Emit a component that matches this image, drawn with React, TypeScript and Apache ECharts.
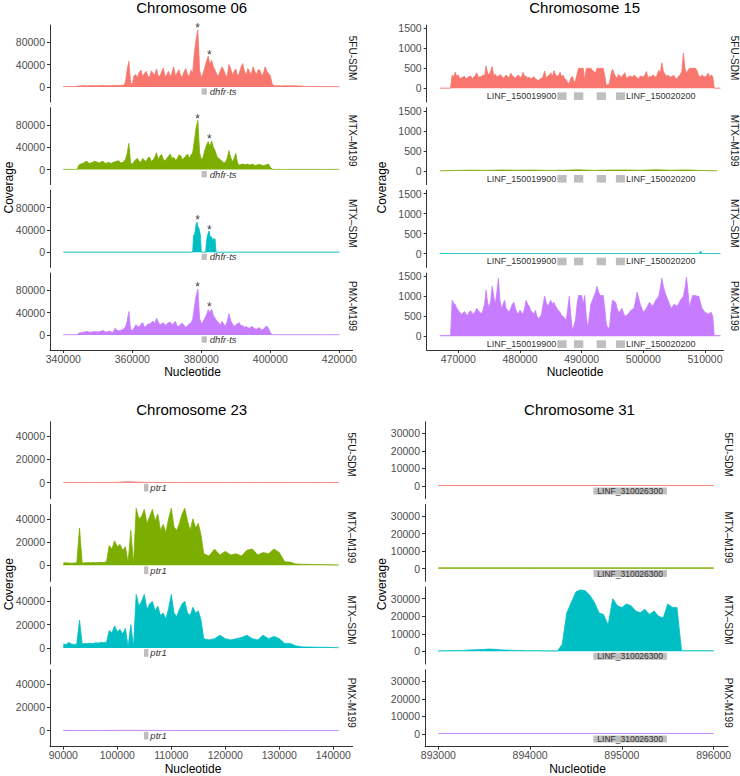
import React, { useEffect, useRef } from 'react';
import * as echarts from 'echarts';

const FONT = '"Liberation Sans", Arial, Helvetica, sans-serif';

const sampleNames = ['5FU-SDM', 'MTX–M199', 'MTX–SDM', 'PMX-M199'];
const sampleColors = ['#F8766D', '#7CAE00', '#00BFC4', '#C77CFF'];

// ---------- Chromosome 06 (coverage in thousands; 340000..420000 every 1000 nt, plus half-step readings)
const c06Start = 340000;
const c06Step = 1000;
const c06Fu = [
  0.6, 0.6, 0.7, 0.6, 1.2, 2, 2.2, 1.8, 2.4, 2, 2.2, 2.6, 2.2, 2, 2.4, 2.8, 2.4, 3, 8, 46,
  4, 22, 26, 18, 28, 17, 24, 32, 19, 34, 22, 18, 36, 25, 20, 27, 22, 30, 62, 102,
  16, 34, 55, 48, 30, 20, 36, 22, 40, 21, 32, 24, 42, 21, 27, 36, 22, 30, 24, 28,
  20, 2, 2.2, 1.8, 2, 2.2, 1.8, 2, 1.6, 1.8, 0.8, 0.7, 0.8, 0.6, 0.7, 0.6, 0.6, 0.5, 0.6, 0.5, 0.5,
];
const c06FuHalf = [
  0.6, 0.6, 0.6, 0.9, 1.8, 2.1, 2, 2.2, 2.2, 2.1, 2.4, 2.4, 2.1, 2.2, 2.6, 2.6, 2.8, 2.9,
  30, 8, 20, 17, 30, 24, 19, 29, 21, 20, 27, 18, 28, 25, 20, 31, 18, 33, 19, 24, 85, 30,
  24, 46, 40, 36, 22, 29, 30, 18, 33, 28, 20, 35, 28, 33, 22, 28, 31, 20, 36, 24, 6,
  2, 2, 2, 2, 2, 2, 1.9, 1.7, 1.2, 0.7, 0.8, 0.7, 0.6, 0.6, 0.6, 0.5, 0.6, 0.5, 0.5,
];
const c06M199 = [
  0.4, 0.4, 0.4, 0.4, 0.5, 10, 12, 14, 12, 15, 13, 14, 12, 13, 11, 14, 16, 12, 18, 47,
  10, 18, 15, 20, 14, 22, 17, 30, 24, 18, 20, 28, 22, 19, 25, 21, 28, 26, 52, 88,
  18, 34, 50, 51, 34, 20, 15, 13, 34, 14, 29, 8, 10, 9, 8, 10, 8, 9, 7, 9,
  4, 0.4, 0.4, 0.4, 0.4, 0.4, 0.4, 0.4, 0.4, 0.4, 0.4, 0.4, 0.4, 0.4, 0.4, 0.4, 0.4, 0.4, 0.4, 0.4, 0.4,
];
const c06M199Half = [
  0.4, 0.4, 0.4, 0.4, 8, 11, 15, 11, 13, 14, 12, 15, 11, 12, 13, 15, 13, 14,
  28, 12, 14, 20, 13, 17, 21, 15, 22, 18, 27, 16, 24, 20, 17, 26, 18, 24, 20, 30, 75, 30,
  22, 44, 42, 40, 24, 18, 12, 20, 22, 20, 12, 9, 9, 10, 9, 7, 9, 8, 8, 10, 1,
  0.4, 0.4, 0.4, 0.4, 0.4, 0.4, 0.4, 0.4, 0.4, 0.4, 0.4, 0.4, 0.4, 0.4, 0.4, 0.4, 0.4, 0.4, 0.4,
];
const c06Pmx = [
  0.4, 0.4, 0.4, 0.4, 0.6, 4, 5, 6, 5, 6, 5, 7, 6, 6, 5, 12, 7, 9, 14, 42,
  8, 18, 14, 22, 16, 20, 25, 30, 18, 22, 19, 23, 21, 16, 19, 17, 16, 21, 50, 82,
  20, 30, 45, 46, 30, 22, 24, 15, 38, 20, 18, 22, 17, 15, 12, 14, 10, 12, 10, 16,
  4, 0.4, 0.4, 0.4, 0.4, 0.4, 0.4, 0.4, 0.4, 0.4, 0.4, 0.4, 0.4, 0.4, 0.4, 0.4, 0.4, 0.4, 0.4, 0.4, 0.4,
];
const c06PmxHalf = [
  0.4, 0.4, 0.4, 0.4, 3, 4.5, 6, 5, 5.5, 6, 6, 8, 5, 7, 5, 9, 8, 11,
  24, 10, 12, 16, 19, 14, 19, 22, 20, 24, 20, 17, 22, 18, 24, 15, 21, 14, 20, 28, 70, 30,
  24, 36, 40, 35, 25, 18, 20, 24, 26, 15, 20, 16, 14, 13, 15, 11, 13, 9, 14, 12, 1,
  0.4, 0.4, 0.4, 0.4, 0.4, 0.4, 0.4, 0.4, 0.4, 0.4, 0.4, 0.4, 0.4, 0.4, 0.4, 0.4, 0.4, 0.4, 0.4,
];
const c06SdmEnds = [340000, 420000];
const c06SdmEndValue = 0.3;
const c06SdmStart = 377500;
const c06SdmStep = 250;
const c06Sdm = [
  0.3, 30, 32, 38, 50, 54, 46, 44, 38, 30, 0.3, 0.3, 0.3, 0.3, 0.3, 0.3,
  18, 30, 34, 38, 30, 26, 28, 20, 25, 22, 24, 0.3, 0.3,
];
const c06StarX = [378950, 382300];
const c06StarY = [[105.8, 58], [90.2, 54.4], [58, 40], [85.6, 49.7]];
const c06XTicks = [340000, 360000, 380000, 400000, 420000];
const c06YTicks = [0, 40000, 80000];
const c06GeneStart = [380100];
const c06GeneEnd = [381600];
const c06GeneName = ['dhfr-ts'];
const c06GeneY = [-14000, -2500];

// ---------- Chromosome 15 (coverage; 467000..512500 every 500 nt, plus half-step readings)
const c15Start = 467000;
const c15Step = 500;
const c15Fu = [
  5, 5, 5, 5,
  330, 400, 330, 260, 300, 270, 310, 280, 390, 300, 340, 560, 330, 540, 360, 300,
  320, 280, 300, 380, 290, 310, 270, 400, 300, 280, 260, 240, 200, 250, 430, 300,
  390, 440, 300, 400, 330, 220, 120, 300, 180, 500, 500, 200, 500, 500, 420, 500,
  500, 500, 80, 120, 480, 290, 350, 280, 390, 270, 300, 330, 260, 310, 280, 420,
  300, 330, 280, 450, 640, 360, 330, 280, 320, 250, 350, 880, 380, 500, 500, 500,
  300, 330, 280, 380, 330,
  5, 5, 5,
];
const c15FuHalf = [
  5, 5, 5, 5,
  280, 300, 240, 280, 230, 290, 240, 320, 260, 280, 300, 380, 430, 300, 280, 340,
  250, 330, 260, 310, 240, 330, 280, 300, 250, 230, 290, 210, 230, 300, 260, 330,
  280, 350, 320, 280, 230, 140, 260, 160, 350, 500, 500, 500, 500, 450, 380, 500,
  500, 300, 90, 350, 380, 260, 300, 340, 250, 310, 280, 300, 240, 290, 330, 260,
  280, 310, 330, 380, 420, 300, 290, 310, 230, 300, 420, 500, 450, 500, 500, 420,
  280, 300, 310, 290, 300,
  5, 5,
];
const c15Pmx = [
  20, 20, 20, 20,
  900, 800, 650, 550, 620, 520, 640, 560, 700, 600, 650, 1150, 700, 1250, 800, 1450,
  700, 900, 650, 700, 850, 600, 650, 550, 900, 750, 600, 650, 450, 550, 1000, 750,
  900, 850, 700, 600, 500, 400, 1000, 150, 400, 1020, 1020, 1020, 200, 800, 1000, 1250,
  1020, 1020, 300, 200, 900, 850, 600, 700, 500, 550, 650, 700, 1100, 800, 600, 700,
  850, 750, 900, 1000, 1450, 1100, 900, 700, 800, 750, 900, 1000, 1480, 700, 1020, 1020,
  1000, 700, 600, 550, 600,
  20, 20, 20,
];
const c15PmxHalf = [
  20, 20, 20, 20,
  820, 700, 600, 580, 560, 600, 580, 620, 640, 560, 800, 850, 900, 1000, 1100, 900,
  800, 700, 600, 800, 700, 560, 600, 700, 800, 640, 560, 500, 480, 800, 850, 820,
  800, 760, 640, 520, 450, 700, 500, 260, 800, 1020, 800, 500, 500, 900, 1100, 1100,
  1020, 700, 220, 600, 880, 700, 620, 600, 520, 600, 680, 900, 950, 700, 650, 780,
  800, 820, 950, 1200, 1250, 1000, 800, 750, 780, 820, 950, 1200, 1100, 900, 1020, 1000,
  850, 650, 580, 580, 500,
  20, 20,
];
const c15M199Start = 467000;
const c15M199Step = 2500;
const c15M199 = [3, 12, 20, 15, 25, 18, 22, 14, 20, 28, 15, 22, 25, 18, 30, 20, 26, 12, 3];
const c15SdmX = [467000, 509000, 509300, 509600, 512500];
const c15SdmY = [3, 3, 60, 3, 3];
const c15XTicks = [470000, 480000, 490000, 500000, 510000];
const c15YTicks = [0, 500, 1000, 1500];
const c15GeneStart = [486050, 488750, 492430, 495560];
const c15GeneEnd = [487560, 490270, 493940, 497020];
const c15GeneName = ['LINF_150019900', '', '', 'LINF_150020200'];
const c15GeneY = [-290, -100];

// ---------- Chromosome 23 (coverage in thousands)
const c23Seg1Start = 90000;
const c23Seg1Step = 500;
const c23Seg2Start = 117000;
const c23Seg2Step = 1000;
const c23M199a = [
  2.0, 2.2, 2.0, 1.8, 2.0, 2.2, 32, 2.0, 2.2, 2.4, 2.2, 2.4, 2.3, 2.5, 2.6, 2.5, 3,
  17, 14, 21, 16, 18, 13, 16, 2, 30, 1, 49, 40, 42, 48, 36, 42, 48, 38, 44, 30, 35,
  28, 40, 49, 33, 30, 36, 44, 49, 38, 30, 40, 32, 36, 26, 10,
];
const c23M199b = [8, 14, 9, 12, 9, 10, 8, 13, 14, 9, 11, 10, 14, 11, 3, 2.8, 1.2, 1, 0.9, 0.8, 0.8, 0.7, 0.6, 0.5, 0.3];
const c23Sdma = [
  3.4, 3.0, 4.8, 3.5, 3.0, 3.5, 24, 3.5, 4.0, 3.8, 4.2, 4.0, 4.5, 4.2, 5.0, 4.6, 5.0,
  15, 13, 19, 14, 16, 12, 17, 1, 20, 1, 46, 36, 40, 46, 33, 38, 40, 32, 36, 28, 30,
  25, 34, 46, 30, 27, 33, 38, 40, 30, 28, 35, 30, 32, 24, 8,
];
const c23Sdmb = [7, 8, 11, 8, 7, 8, 9, 11, 8, 7, 11, 8, 10, 8, 4, 4, 2, 1, 0.9, 0.8, 0.7, 0.7, 0.6, 0.4, 0.3];
const c23FlatStart = 90000;
const c23FlatStep = 3000;
const c23Fu = [0.2, 0.2, 0.2, 0.2, 0.8, 0.3, 0.2, 0.2, 0.2, 0.2, 0.2, 0.2, 0.2, 0.2, 0.2, 0.1, 0.1, 0.1];
const c23Pmx = [0.3, 0.2, 0.2, 0.3, 0.4, 0.3, 0.2, 0.2, 0.2, 0.2, 0.2, 0.2, 0.2, 0.2, 0.1, 0.1, 0.1, 0.1];
const c23XTicks = [90000, 100000, 110000, 120000, 130000, 140000];
const c23YTicks = [0, 20000, 40000];
const c23GeneStart = [104950];
const c23GeneEnd = [105750];
const c23GeneName = ['ptr1'];
const c23GeneY = [-7500, -900];

// ---------- Chromosome 31 (coverage in thousands)
const c31Start = 893000;
const c31Step = 50;
const c31Sdm = [
  0.3, 0.3, 0.4, 0.4, 0.5, 0.5, 0.6, 0.8, 0.9, 1.0, 1.1, 1.3, 1.2, 1.0, 0.8, 0.7, 0.6, 0.5,
  0.5, 0.4, 0.4, 0.4, 0.4, 0.3, 0.3, 0.3, 0.3,
  4, 22, 28, 34, 35, 34.5, 32, 28, 22, 21, 15, 30, 26, 25, 27, 26, 23, 22, 24, 21, 23, 20,
  19, 27, 25, 25,
  0.4, 0.4, 0.4, 0.4, 0.4, 0.4, 0.4, 0.4,
];
const c31FlatStart = 893000;
const c31FlatStep = 500;
const c31Fu = [0.3, 0.3, 0.3, 0.3, 0.3, 0.3, 0.3];
const c31M199 = [0.5, 0.5, 0.5, 0.5, 0.5, 0.5, 0.5];
const c31Pmx = [0.3, 0.3, 0.3, 0.3, 0.3, 0.3, 0.3];
const c31XTicks = [893000, 894000, 895000, 896000];
const c31YTicks = [0, 10000, 20000, 30000];
const c31GeneStart = [894690];
const c31GeneEnd = [895490];
const c31GeneName = ['LINF_310026300'];
const c31GeneY = [-4800, -800];

function seg(x0: number, dx: number, vals: number[], k: number): number[][] {
  return vals.map((v, i) => [x0 + i * dx, v * k]);
}
function pairs(xs: number[], ys: number[]): number[][] {
  return xs.map((x, i) => [x, ys[i]]);
}
function interleave(main: number[], half: number[]): number[] {
  const out: number[] = [];
  main.forEach((v, i) => {
    out.push(v);
    if (i < half.length) out.push(half[i]);
  });
  return out;
}

const FACET_H = 77;
const FACET_STEP = 82.67;

const chromosomes: any[] = [
  {
    title: 'Chromosome 06',
    series: [
      seg(c06Start, c06Step / 2, interleave(c06Fu, c06FuHalf), 1000),
      seg(c06Start, c06Step / 2, interleave(c06M199, c06M199Half), 1000),
      [[c06SdmEnds[0], c06SdmEndValue * 1000], ...seg(c06SdmStart, c06SdmStep, c06Sdm, 1000), [c06SdmEnds[1], c06SdmEndValue * 1000]],
      seg(c06Start, c06Step / 2, interleave(c06Pmx, c06PmxHalf), 1000),
    ],
    stars: c06StarY.map((ys) => ys.map((y, i) => [c06StarX[i], y * 1000])),
    xTicks: c06XTicks, yTicks: c06YTicks,
    gStart: c06GeneStart, gEnd: c06GeneEnd, gName: c06GeneName, gY: c06GeneY,
    gPos: ['right'], gItalic: true, gSize: 9.5, gDist: 3,
    left: 50, width: 302.6, top: 25, xMin: 336150, xMax: 423850, yMin: -27000, yMax: 111000,
    titleX: 191.7, titleY: 7.5, stripX: 352, xNameX: 192.5, xNameY: 372, yNameX: 8.5,
  },
  {
    title: 'Chromosome 15',
    series: [
      seg(c15Start, c15Step / 2, interleave(c15Fu, c15FuHalf), 1),
      seg(c15M199Start, c15M199Step, c15M199, 1),
      pairs(c15SdmX, c15SdmY),
      seg(c15Start, c15Step / 2, interleave(c15Pmx, c15PmxHalf), 1),
    ],
    xTicks: c15XTicks, yTicks: c15YTicks,
    gStart: c15GeneStart, gEnd: c15GeneEnd, gName: c15GeneName, gY: c15GeneY,
    gPos: ['left', 'left', 'left', 'right'], gItalic: false, gSize: 9, gDist: 1,
    left: 426.7, width: 296.6, top: 25, xMin: 464877, xMax: 512967, yMin: -342, yMax: 1583,
    titleX: 584.7, titleY: 7.5, stripX: 734, xNameX: 575, xNameY: 372, yNameX: 381.5,
  },
  {
    title: 'Chromosome 23',
    series: [
      seg(c23FlatStart, c23FlatStep, c23Fu, 1000),
      [...seg(c23Seg1Start, c23Seg1Step, c23M199a, 1000), ...seg(c23Seg2Start, c23Seg2Step, c23M199b, 1000)],
      [...seg(c23Seg1Start, c23Seg1Step, c23Sdma, 1000), ...seg(c23Seg2Start, c23Seg2Step, c23Sdmb, 1000)],
      seg(c23FlatStart, c23FlatStep, c23Pmx, 1000),
    ],
    xTicks: c23XTicks, yTicks: c23YTicks,
    gStart: c23GeneStart, gEnd: c23GeneEnd, gName: c23GeneName, gY: c23GeneY,
    gPos: ['right'], gItalic: true, gSize: 9.5, gDist: 2,
    left: 50, width: 302.6, top: 421.7, xMin: 87537, xMax: 143574, yMin: -13734, yMax: 52360,
    titleX: 191.7, titleY: 409.2, stripX: 351, xNameX: 193, xNameY: 768.5, yNameX: 8.5,
  },
  {
    title: 'Chromosome 31',
    series: [
      seg(c31FlatStart, c31FlatStep, c31Fu, 1000),
      seg(c31FlatStart, c31FlatStep, c31M199, 1000),
      seg(c31Start, c31Step, c31Sdm, 1000),
      seg(c31FlatStart, c31FlatStep, c31Pmx, 1000),
    ],
    xTicks: c31XTicks, yTicks: c31YTicks,
    gStart: c31GeneStart, gEnd: c31GeneEnd, gName: c31GeneName, gY: c31GeneY,
    gPos: ['inside'], gItalic: false, gSize: 8.5, gDist: 0,
    left: 425, width: 303, top: 421.7, xMin: 892855, xMax: 896156, yMin: -7237, yMax: 36640,
    titleX: 579.5, titleY: 409.2, stripX: 728, xNameX: 577.5, xNameY: 768.5, yNameX: 381.5,
  },
];

const AXIS_COLOR = '#333333';
const LABEL_COLOR = '#4D4D4D';

function textEl(text: string, x: number, y: number, size: number, rotation = 0, fill = '#000') {
  return {
    type: 'text', x, y, rotation, silent: true,
    style: {
      text, fill, fontSize: size, fontFamily: FONT,
      align: 'center', verticalAlign: 'middle', textAlign: 'center', textVerticalAlign: 'middle',
    },
  };
}

function buildOption() {
  const grid: any[] = [];
  const xAxis: any[] = [];
  const yAxis: any[] = [];
  const series: any[] = [];
  const graphic: any[] = [];

  chromosomes.forEach((c, p) => {
    for (let f = 0; f < 4; f++) {
      const idx = p * 4 + f;
      const top = c.top + f * FACET_STEP;
      const isBottom = f === 3;
      grid.push({ left: c.left, top, width: c.width, height: FACET_H, containLabel: false });
      xAxis.push({
        gridIndex: idx, type: 'value', min: c.xMin, max: c.xMax, show: isBottom,
        axisLine: { show: isBottom, onZero: false, lineStyle: { color: AXIS_COLOR, width: 1 } },
        axisTick: { show: isBottom, length: 3, customValues: c.xTicks, lineStyle: { color: AXIS_COLOR } },
        axisLabel: {
          show: isBottom, customValues: c.xTicks, formatter: (v: number) => String(v),
          fontSize: 10.5, color: LABEL_COLOR, margin: 3, fontFamily: FONT,
        },
        splitLine: { show: false },
      });
      yAxis.push({
        gridIndex: idx, type: 'value', min: c.yMin, max: c.yMax,
        axisLine: { show: true, onZero: false, lineStyle: { color: AXIS_COLOR, width: 1 } },
        axisTick: { show: true, length: 3, customValues: c.yTicks, lineStyle: { color: AXIS_COLOR } },
        axisLabel: {
          customValues: c.yTicks, formatter: (v: number) => String(v),
          fontSize: 10.5, color: LABEL_COLOR, margin: 5, fontFamily: FONT,
        },
        splitLine: { show: false },
      });

      const areaData = c.gStart.map((s: number, gi: number) => {
        const name = c.gName[gi];
        return [
          {
            xAxis: s, yAxis: c.gY[0], name,
            label: {
              show: name !== '', position: c.gPos[gi], distance: c.gDist,
              fontSize: c.gSize, fontStyle: c.gItalic ? 'italic' : 'normal',
              color: '#333333', fontFamily: FONT,
            },
          },
          { xAxis: c.gEnd[gi], yAxis: c.gY[1] },
        ];
      });

      series.push({
        type: 'line', xAxisIndex: idx, yAxisIndex: idx, data: c.series[f],
        symbol: 'none', showSymbol: false, silent: true,
        lineStyle: { color: sampleColors[f], width: 0.8 },
        itemStyle: { color: sampleColors[f] },
        areaStyle: { color: sampleColors[f], opacity: 1 },
        markArea: {
          silent: true,
          itemStyle: { color: '#BEBEBE', opacity: 1, borderWidth: 0 },
          data: areaData,
        },
        z: 2,
      });

      if (c.stars) {
        series.push({
          type: 'scatter', xAxisIndex: idx, yAxisIndex: idx, data: c.stars[f],
          symbol: 'circle', symbolSize: 0, silent: true, z: 5,
          label: { show: true, formatter: '*', position: 'inside', fontSize: 12, color: '#000', fontFamily: FONT },
        });
      }

      graphic.push(textEl(sampleNames[f], c.stripX, top + FACET_H / 2 - 5.5, 10, -Math.PI / 2, '#1A1A1A'));
    }
    graphic.push(textEl(c.title, c.titleX, c.titleY, 15));
    graphic.push(textEl('Nucleotide', c.xNameX, c.xNameY, 12));
    graphic.push(textEl('Coverage', c.yNameX, c.top + (3 * FACET_STEP + FACET_H) / 2, 12, Math.PI / 2));
  });

  return {
    animation: false,
    backgroundColor: '#ffffff',
    textStyle: { fontFamily: FONT },
    grid, xAxis, yAxis, series, graphic,
  };
}

export default function App() {
  const ref = useRef<HTMLDivElement>(null);
  useEffect(() => {
    if (!ref.current) return;
    const chart = echarts.init(ref.current, undefined, { renderer: 'svg' });
    chart.setOption(buildOption() as any);
    return () => chart.dispose();
  }, []);
  return (
    <div
      ref={ref}
      style={{ position: 'absolute', left: 0, top: 0, width: 740, height: 776, background: '#fff' }}
    />
  );
}
